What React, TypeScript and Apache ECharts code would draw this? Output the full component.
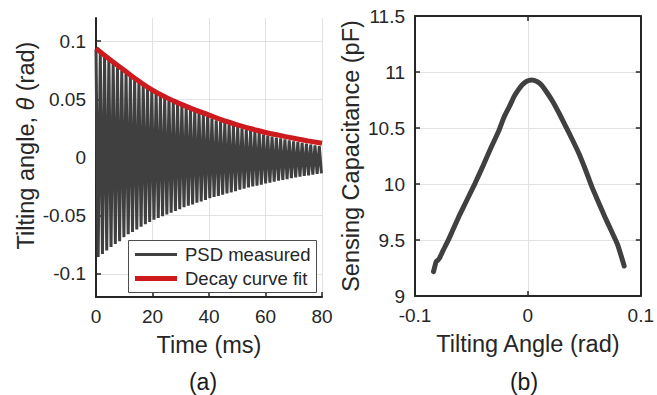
import React, { useEffect, useRef } from "react";
import * as echarts from "echarts";

// ---------- Panel (a): PSD measured tilting angle vs time ----------
const timeTicks = [0, 20, 40, 60, 80];
const thetaRange = [-0.12, 0.12];
const thetaTicks = [-0.1, -0.05, 0, 0.05, 0.1];
const periodMs = 1.52; // oscillation period read from the stripe spacing
// positive peak of each cycle (rad)
const upperPeaks = [
  0.093, 0.09, 0.087, 0.084, 0.081, 0.078, 0.075, 0.0725, 0.07, 0.0675,
  0.065, 0.0625, 0.06, 0.058, 0.056, 0.054, 0.052, 0.05, 0.048, 0.0465,
  0.045, 0.0435, 0.042, 0.0405, 0.039, 0.0375, 0.036, 0.0335, 0.032, 0.031,
  0.0298, 0.0285, 0.0273, 0.0262, 0.0251, 0.024, 0.023, 0.022, 0.021, 0.0198,
  0.0188, 0.018, 0.0172, 0.0164, 0.0156, 0.0148, 0.014, 0.0133, 0.0126, 0.0119,
  0.0112, 0.0105, 0.0098,
];
// negative peak of each cycle (rad)
const lowerPeaks = [
  -0.0855, -0.083, -0.08, -0.077, -0.0745, -0.072, -0.0685, -0.066, -0.064, -0.062,
  -0.0595, -0.0575, -0.0555, -0.0535, -0.052, -0.0505, -0.049, -0.0475, -0.046, -0.0445,
  -0.0428, -0.0415, -0.0403, -0.039, -0.0378, -0.0366, -0.035, -0.034, -0.033, -0.032,
  -0.031, -0.03, -0.029, -0.0278, -0.0268, -0.0258, -0.025, -0.0242, -0.0233, -0.0224,
  -0.0216, -0.0208, -0.02, -0.0193, -0.0186, -0.0178, -0.0171, -0.0165, -0.0159, -0.0153,
  -0.0147, -0.0142, -0.0136,
];
// decay curve fit
const fitTime = [0, 5, 10, 15, 20, 25, 30, 35, 40, 45, 50, 55, 60, 65, 70, 75, 80];
const fitTheta = [
  0.0938, 0.084, 0.075, 0.066, 0.058, 0.0515, 0.046, 0.041, 0.0365, 0.032,
  0.028, 0.0247, 0.0215, 0.019, 0.0165, 0.0143, 0.0122,
];

// ---------- Panel (b): sensing capacitance vs tilting angle ----------
const angleTicks = [-0.1, 0, 0.1];
const capTicks = [9, 9.5, 10, 10.5, 11, 11.5];
const angleRad = [
  -0.0836, -0.0813, -0.08, -0.0784, -0.0756, -0.07, -0.0612, -0.054, -0.0468, -0.0396,
  -0.0325, -0.026, -0.021, -0.016, -0.0123, -0.0085, -0.0052, -0.001, 0.0034, 0.008,
  0.012, 0.017, 0.0221, 0.028, 0.0336, 0.0394, 0.0451, 0.051, 0.0566, 0.0624,
  0.0681, 0.074, 0.0796, 0.0853,
];
const capacitancePf = [
  9.217, 9.306, 9.318, 9.336, 9.396, 9.51, 9.708, 9.857, 10.006, 10.166,
  10.328, 10.47, 10.601, 10.7, 10.78, 10.84, 10.884, 10.918, 10.929, 10.915,
  10.884, 10.815, 10.735, 10.625, 10.512, 10.395, 10.274, 10.127, 9.976, 9.84,
  9.708, 9.58, 9.455, 9.268,
];

const INK = "#262626";
const GRID = "#e2e2e2";
const FONT = "'Liberation Sans', Arial, Helvetica, sans-serif";

export default function App() {
  const ref = useRef<HTMLDivElement>(null);

  useEffect(() => {
    if (!ref.current) return;
    const chart = echarts.init(ref.current, undefined, { renderer: "svg" });

    const psd: [number, number][] = [];
    upperPeaks.forEach((u, k) => {
      psd.push([k * periodMs, u]);
      psd.push([k * periodMs + periodMs / 2, lowerPeaks[k]]);
    });
    const fit = fitTime.map((t, i) => [t, fitTheta[i]]);
    const cap = angleRad.map((a, i) => [a, capacitancePf[i]]);

    const axisLine = { show: true, onZero: false, lineStyle: { color: INK, width: 2 } };
    const axisTick = { show: true, inside: true, length: 5, lineStyle: { color: INK, width: 1.5 } };
    const axisLabel = { color: INK, fontSize: 19, fontFamily: FONT, margin: 10 };
    const splitLine = { show: true, lineStyle: { color: GRID, width: 1 } };
    const nameStyle = { color: INK, fontSize: 23.5, fontFamily: FONT };

    chart.setOption({
      animation: false,
      backgroundColor: "#ffffff",
      textStyle: { fontFamily: FONT },
      grid: [
        { left: 96, top: 18, width: 226, height: 279 },
        { left: 415, top: 16, width: 232, height: 280 },
      ],
      xAxis: [
        {
          type: "value",
          gridIndex: 0,
          min: timeTicks[0],
          max: timeTicks[timeTicks.length - 1],
          interval: timeTicks[1] - timeTicks[0],
          axisLine,
          axisTick,
          axisLabel,
          splitLine,
          name: "Time (ms)",
          nameLocation: "middle",
          nameGap: 36,
          nameTextStyle: nameStyle,
        },
        {
          type: "value",
          gridIndex: 1,
          min: angleTicks[0],
          max: angleTicks[angleTicks.length - 1],
          interval: angleTicks[1] - angleTicks[0],
          axisLine,
          axisTick,
          axisLabel,
          splitLine,
          name: "Tilting Angle (rad)",
          nameLocation: "middle",
          nameGap: 36,
          nameTextStyle: nameStyle,
        },
        {
          type: "value",
          gridIndex: 1,
          position: "top",
          min: angleTicks[0],
          max: angleTicks[angleTicks.length - 1],
          interval: angleTicks[1] - angleTicks[0],
          axisLine,
          axisTick,
          axisLabel: { show: false },
          splitLine: { show: false },
        },
      ],
      yAxis: [
        {
          type: "value",
          gridIndex: 0,
          min: thetaRange[0],
          max: thetaRange[1],
          splitNumber: 5,
          axisLine,
          axisTick: { ...axisTick, customValues: thetaTicks },
          axisLabel: { ...axisLabel, customValues: thetaTicks },
          splitLine,
          name: "Tilting angle, {i|θ} (rad)",
          nameLocation: "middle",
          nameGap: 58,
          nameTextStyle: {
            ...nameStyle,
            padding: [0, 0, 0, 24],
            rich: { i: { fontStyle: "italic", fontSize: 23.5, fontFamily: FONT, color: INK } },
          },
        },
        {
          type: "value",
          gridIndex: 1,
          min: capTicks[0],
          max: capTicks[capTicks.length - 1],
          interval: capTicks[1] - capTicks[0],
          axisLine,
          axisTick,
          axisLabel,
          splitLine,
          name: "Sensing Capacitance (pF)",
          nameLocation: "middle",
          nameGap: 52,
          nameTextStyle: nameStyle,
        },
        {
          type: "value",
          gridIndex: 1,
          position: "right",
          min: capTicks[0],
          max: capTicks[capTicks.length - 1],
          interval: capTicks[1] - capTicks[0],
          axisLine,
          axisTick,
          axisLabel: { show: false },
          splitLine: { show: false },
        },
      ],
      legend: [
        {
          data: [{ name: "PSD measured", icon: "rect" }],
          left: 135,
          top: 245,
          padding: 0,
          itemWidth: 42,
          itemHeight: 3,
          z: 60,
          selectedMode: false,
          textStyle: { color: INK, fontSize: 18.5, fontFamily: FONT, padding: [0, 0, 0, 3] },
        },
        {
          data: [{ name: "Decay curve fit", icon: "rect" }],
          left: 135,
          top: 269,
          padding: 0,
          itemWidth: 42,
          itemHeight: 5,
          z: 60,
          selectedMode: false,
          textStyle: { color: INK, fontSize: 18.5, fontFamily: FONT, padding: [0, 0, 0, 3] },
        },
      ],
      graphic: [
        {
          type: "rect",
          z: 50,
          shape: { x: 128.5, y: 240.5, width: 188, height: 52 },
          style: { fill: "#ffffff", stroke: "#4d4d4d", lineWidth: 1 },
        },
        {
          type: "text",
          x: 203,
          y: 382,
          style: { text: "(a)", fill: "#1a1a1a", fontSize: 23, fontFamily: FONT, textAlign: "center", textVerticalAlign: "middle" },
        },
        {
          type: "text",
          x: 524,
          y: 382,
          style: { text: "(b)", fill: "#1a1a1a", fontSize: 23, fontFamily: FONT, textAlign: "center", textVerticalAlign: "middle" },
        },
      ],
      series: [
        {
          name: "PSD measured",
          type: "line",
          xAxisIndex: 0,
          yAxisIndex: 0,
          data: psd,
          showSymbol: false,
          symbol: "none",
          itemStyle: { color: "#404040" },
          lineStyle: { color: "#404040", width: 3, join: "bevel" },
        },
        {
          name: "Decay curve fit",
          type: "line",
          xAxisIndex: 0,
          yAxisIndex: 0,
          data: fit,
          smooth: true,
          showSymbol: false,
          symbol: "none",
          itemStyle: { color: "#cc1a1f" },
          lineStyle: { color: "#cc1a1f", width: 5 },
        },
        {
          name: "Capacitance",
          type: "line",
          xAxisIndex: 1,
          yAxisIndex: 1,
          data: cap,
          smooth: 0.15,
          showSymbol: false,
          symbol: "none",
          itemStyle: { color: "#404040" },
          lineStyle: { color: "#404040", width: 5, cap: "round", join: "round" },
        },
      ],
    });

    return () => chart.dispose();
  }, []);

  return (
    <div
      ref={ref}
      style={{ position: "fixed", left: 0, top: 0, width: 657, height: 395, background: "#fff" }}
    />
  );
}
